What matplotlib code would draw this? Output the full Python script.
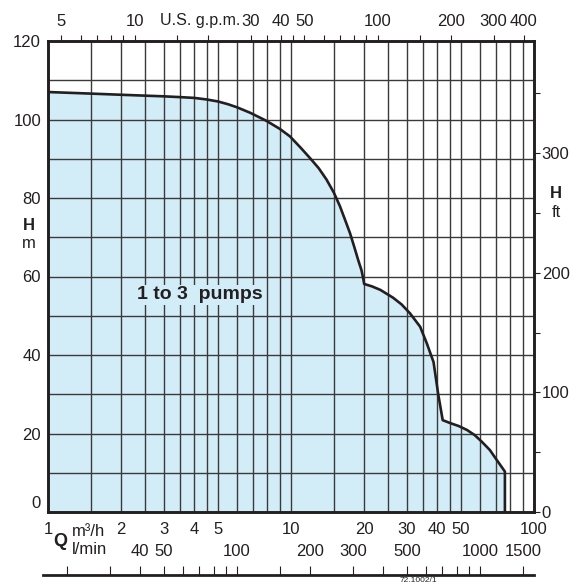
import matplotlib.pyplot as plt
from matplotlib.ticker import NullFormatter

plt.rcParams['font.family'] = ['Liberation Sans', 'DejaVu Sans']

# pump curve (Q in m3/h, H in m)
curve_q = [1.0, 1.5, 2.0, 3.0, 3.5, 4.0, 4.5, 5.0, 5.5, 6.0, 6.8, 7.9, 9.0, 9.9, 11.0, 12.0,
           13.0, 14.0, 15.0, 15.9, 16.7, 17.5, 18.2, 18.9, 19.5, 19.85, 20.0,
           21.5, 23.3, 26.3, 28.5, 30.9, 34.0, 36.2, 38.6, 40.3, 42.1,
           45.0, 49.0, 53.0, 57.0, 61.0, 65.8, 71.1, 75.9, 75.9]
curve_h = [107.0, 106.6, 106.3, 105.9, 105.7, 105.5, 105.1, 104.6, 103.9, 103.1, 101.7, 99.7, 97.6, 95.7, 92.7, 90.1,
           87.6, 84.7, 81.4, 77.9, 74.4, 71.0, 67.6, 64.2, 61.6, 59.3, 58.1,
           57.5, 56.6, 54.6, 52.9, 50.6, 47.2, 43.0, 38.2, 30.2, 23.4,
           22.7, 21.9, 20.9, 19.6, 17.9, 15.8, 12.8, 10.3, 0.0]

# axis ticks
q_labels = [1, 2, 3, 4, 5, 10, 20, 30, 40, 50, 100]
q_grid = [1.5, 2, 2.5, 3, 3.5, 4, 4.5, 5, 6, 7, 8, 9, 10,
          15, 20, 25, 30, 35, 40, 45, 50, 60, 70, 80, 90]
h_labels = [0, 20, 40, 60, 80, 100, 120]
h_grid = [10, 20, 30, 40, 50, 60, 70, 80, 90, 100, 110]
gpm_labels = [5, 10, 20, 30, 40, 50, 100, 200, 300, 400]
gpm_names = ['5', '10', '', '30', '40', '50', '100', '200', '300', '400']
gpm_minor = [6, 7, 8, 9, 15, 35, 45, 60, 70, 80, 90, 150]
ft_labels = [0, 100, 200, 300]
ft_minor = [50, 150, 250, 350]
lmin_ticks = [20, 30, 40, 50, 60, 70, 80, 90, 100, 150, 200, 300, 400, 500,
              600, 700, 800, 900, 1000, 1500]
lmin_labels = [40, 50, 100, 200, 300, 500, 1000, 1500]

ink = '#231f20'
W, H = 573, 586
fig = plt.figure(figsize=(W / 100, H / 100), dpi=100)
ax = fig.add_axes([48 / W, 1 - 512 / H, 486 / W, 471 / H])

ax.fill_between(curve_q, curve_h, 0, color='#d2ecf8', lw=0, zorder=1)
ax.plot(curve_q, curve_h, color=ink, lw=1.9, zorder=3)

ax.set_xscale('log')
ax.set_xlim(1, 100)
ax.set_ylim(0, 120)
ax.set_xticks(q_labels, labels=[str(v) for v in q_labels])
ax.set_xticks(q_grid, minor=True)
ax.xaxis.set_minor_formatter(NullFormatter())
ax.set_yticks(h_labels, labels=[''] + [str(v) for v in h_labels[1:]])
ax.set_yticks(h_grid, minor=True)
ax.xaxis.remove_overlapping_locs = False
ax.yaxis.remove_overlapping_locs = False
ax.grid(which='minor', color='#3a3a3a', lw=1.0, zorder=1.5)
ax.tick_params(which='both', length=0, labelsize=12, colors=ink)
ax.tick_params(axis='x', pad=7)
ax.tick_params(axis='y', pad=5)
for s in ax.spines.values():
    s.set_linewidth(2.1)
    s.set_color(ink)
    s.set_zorder(4)
# the 0 label sits a little above the bottom line
ax.annotate('0', xy=(0, 0), xycoords=('axes fraction', 'data'), xytext=(-5, 6),
            textcoords='offset points', ha='right', va='center', fontsize=12, color=ink)

ax.text(4.22, 55.3, '1 to 3  pumps', fontsize=14, fontweight='bold', color=ink,
        ha='center', va='center', zorder=4,
        bbox=dict(facecolor='#d2ecf8', edgecolor='none', pad=1))

# top axis: U.S. g.p.m.
ax_top = ax.twiny()
ax_top.set_xscale('log')
ax_top.set_xlim(4.403, 440.3)
ax_top.set_xticks(gpm_labels, labels=gpm_names)
ax_top.set_xticks(gpm_minor, minor=True)
ax_top.xaxis.set_minor_formatter(NullFormatter())
ax_top.tick_params(which='both', direction='out', length=4.5, width=0.8, labelsize=12,
                   pad=4, colors=ink)
for s in ax_top.spines.values():
    s.set_visible(False)
fig.text(200 / W, 1 - 20 / H, 'U.S. g.p.m.', fontsize=11.5, ha='center', va='center', color=ink)

# right axis: feet
ax_r = ax.twinx()
ax_r.set_ylim(0, 120 / 0.3048)
ax_r.set_yticks(ft_labels, labels=[str(v) for v in ft_labels])
ax_r.set_yticks(ft_minor, minor=True)
ax_r.tick_params(which='both', direction='out', length=4.5, width=0.8, labelsize=12,
                 pad=1, colors=ink)
for s in ax_r.spines.values():
    s.set_visible(False)

# bottom scale: l/min
ax_l = fig.add_axes([43 / W, 1 - 575 / H, 491 / W, 0.02])
ax_l.set_xscale('log')
ax_l.set_xlim(0.954 * 16.667, 1666.7)
ax_l.set_xticks(lmin_ticks)
ax_l.set_xticks([], minor=True)
ax_l.xaxis.set_major_formatter(NullFormatter())
ax_l.set_yticks([])
ax_l.patch.set_visible(False)
for k in ['top', 'left', 'right']:
    ax_l.spines[k].set_visible(False)
ax_l.spines['bottom'].set_linewidth(2.0)
ax_l.spines['bottom'].set_color(ink)
ax_l.tick_params(axis='x', direction='in', length=6.5, width=0.8, colors=ink)
for v in lmin_labels:
    ax_l.annotate(str(v), xy=(v, 0), xycoords=('data', 'axes fraction'),
                  xytext=(0, 17), textcoords='offset points',
                  ha='center', va='center', fontsize=12, color=ink)

# axis titles
fig.text(60 / W, 1 - 542 / H, 'Q', fontsize=13, fontweight='bold', ha='center', va='center', color=ink)
fig.text(72 / W, 1 - 531 / H, 'm³/h', fontsize=12, ha='left', va='center', color=ink)
fig.text(72 / W, 1 - 550 / H, 'l/min', fontsize=12, ha='left', va='center', color=ink)
fig.text(29 / W, 1 - 225 / H, 'H', fontsize=12, fontweight='bold', ha='center', va='center', color=ink)
fig.text(29 / W, 1 - 243 / H, 'm', fontsize=12, ha='center', va='center', color=ink)
fig.text(556 / W, 1 - 193 / H, 'H', fontsize=12, fontweight='bold', ha='center', va='center', color=ink)
fig.text(556 / W, 1 - 212 / H, 'ft', fontsize=12, ha='center', va='center', color=ink)
fig.text(418 / W, 1 - 581 / H, '72.1002/1', fontsize=6, ha='center', va='center', color=ink)

fig.savefig('out.png', dpi=100)
